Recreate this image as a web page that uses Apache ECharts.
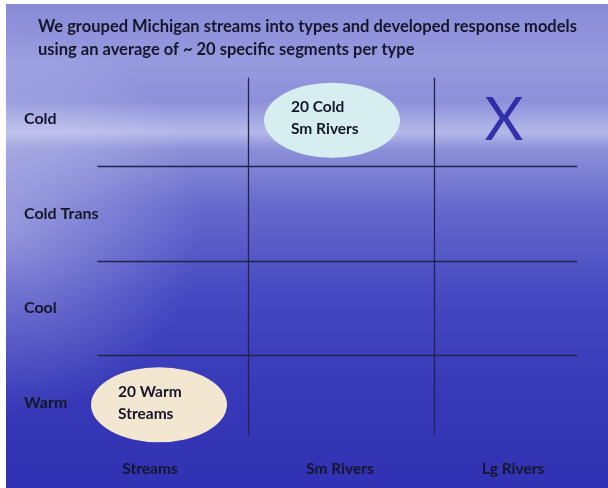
<!DOCTYPE html>
<html>
<head>
<meta charset="utf-8">
<script src="https://cdn.jsdelivr.net/npm/echarts@6/dist/echarts.min.js"></script>
<style>
  html, body { margin: 0; padding: 0; background: #ffffff; }
  #chart { position: absolute; left: 6px; top: 4px; width: 602px; height: 484px; }
</style>
</head>
<body>
<div id="chart"></div>
<script>
// stream types (rows) and river sizes (columns)
const titleLines = [
    'We grouped Michigan streams into types and developed response models',
    'using an average of ~ 20 specific segments per type'
];
const rowNames = ['Cold', 'Cold Trans', 'Cool', 'Warm'];
const colNames = ['Streams', 'Sm Rivers', 'Lg Rivers'];
// cells with a modelled group
const groupCells = [
    { row: 'Cold', col: 'Sm Rivers', text: '20 Cold\nSm Rivers', color: '#d7eef0' },
    { row: 'Warm', col: 'Streams', text: '20 Warm\nStreams', color: '#f4e7d2' }
];
// cell that is not modelled
const missingCells = [
    { row: 'Cold', col: 'Lg Rivers' }
];

const FONT = 'Lato';
const INK = '#16162a';
const chart = echarts.init(document.getElementById('chart'));

// table grid lines, in cell units
const lineData = [];
for (let c = 1; c < colNames.length; c++) {
    lineData.push([{ coord: [c, 0.06] }, { coord: [c, 3.84] }]);
}
for (let r = 1; r < rowNames.length; r++) {
    lineData.push([{ coord: [0.19, r] }, { coord: [2.77, r] }]);
}

const offsets = { 'Sm Rivers': [-9, 1], 'Streams': [4, 2], 'Lg Rivers': [-23, 1] };

chart.setOption({
    backgroundColor: new echarts.graphic.LinearGradient(0, 0, 0, 1, [
        { offset: 0, color: '#888bd8' },
        { offset: 0.12, color: '#979ade' },
        { offset: 0.2, color: '#8c90da' },
        { offset: 0.265, color: '#b5b8e8' },
        { offset: 0.3, color: '#8c90d8' },
        { offset: 0.42, color: '#6669cd' },
        { offset: 0.6, color: '#4649c1' },
        { offset: 0.8, color: '#3739b8' },
        { offset: 1, color: '#3032b3' }
    ]),
    graphic: [{
        type: 'rect',
        silent: true,
        shape: { x: 0, y: 0, width: 602, height: 484 },
        style: {
            fill: new echarts.graphic.RadialGradient(0, 0.45, 0.4, [
                { offset: 0, color: 'rgba(235,235,250,0.4)' },
                { offset: 1, color: 'rgba(235,235,250,0)' }
            ])
        }
    }],
    title: {
        text: titleLines.join('\n'),
        left: 27,
        top: 6,
        textStyle: { fontFamily: FONT, fontSize: 16.5, fontWeight: 'bold', color: INK, lineHeight: 23 }
    },
    grid: { left: 56, right: -12, top: 68, bottom: 38, containLabel: false, outerBoundsMode: 'none' },
    xAxis: [{
        type: 'value', min: 0, max: colNames.length, show: false
    }, {
        type: 'category', data: colNames, position: 'bottom',
        axisLine: { show: false }, axisTick: { show: false }, splitLine: { show: false },
        axisLabel: {
            margin: 11,
            formatter: function (v, i) { return '{c' + i + '|' + v + '}'; },
            rich: {
                c0: { fontFamily: FONT, fontSize: 15.5, fontWeight: 'bold', color: INK, padding: [0, 10, 0, 0] },
                c1: { fontFamily: FONT, fontSize: 15.5, fontWeight: 'bold', color: INK, padding: [0, 2, 0, 0] },
                c2: { fontFamily: FONT, fontSize: 15.5, fontWeight: 'bold', color: INK, padding: [0, 28, 0, 0] }
            }
        }
    }],
    yAxis: [{
        type: 'value', min: 0, max: rowNames.length, inverse: true, show: false
    }, {
        type: 'category', data: rowNames, inverse: true, position: 'left',
        axisLine: { show: false }, axisTick: { show: false }, splitLine: { show: false },
        axisLabel: { align: 'left', margin: 38, fontFamily: FONT, fontSize: 16, fontWeight: 'bold', color: INK }
    }],
    series: [{
        type: 'line',
        data: [],
        silent: true,
        markLine: {
            symbol: 'none',
            silent: true,
            label: { show: false },
            lineStyle: { color: '#22224a', width: 1.3, type: 'solid' },
            data: lineData
        }
    }, {
        type: 'scatter',
        silent: true,
        symbol: 'circle',
        symbolSize: [136, 75],
        data: groupCells.map(function (d) {
            return {
                value: [colNames.indexOf(d.col) + 0.5, rowNames.indexOf(d.row) + 0.5],
                symbolOffset: offsets[d.col],
                itemStyle: { color: d.color, opacity: 1 },
                label: {
                    show: true,
                    formatter: d.text,
                    position: 'inside',
                    align: 'left',
                    offset: [-41, -2],
                    fontFamily: FONT, fontSize: 15.5, fontWeight: 'bold', color: INK, lineHeight: 22
                }
            };
        })
    }, {
        type: 'scatter',
        silent: true,
        symbolSize: 0,
        data: missingCells.map(function (d) {
            return {
                value: [colNames.indexOf(d.col) + 0.5, rowNames.indexOf(d.row) + 0.5],
                label: {
                    show: true,
                    formatter: 'X',
                    position: 'inside',
                    offset: offsets[d.col],
                    fontFamily: FONT, fontSize: 60, color: '#14149a'
                }
            };
        })
    }]
});
</script>
</body>
</html>
